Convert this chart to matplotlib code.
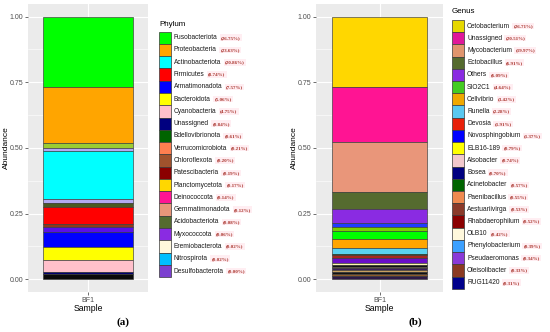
import matplotlib
matplotlib.use("Agg")
import matplotlib.pyplot as plt
import matplotlib.patches as patches

plt.rcParams['font.family'] = ['Liberation Sans', 'DejaVu Sans']

# ---- data -------------------------------------------------------------
sample = ['BF1']

# panel (a): stacked segments, top to bottom
phylum_bar_heights = [0.269, 0.213, 0.019, 0.009, 0.185, 0.016, 0.015, 0.063,
                      0.011, 0.019, 0.060, 0.049, 0.043, 0.009, 0.020]
phylum_bar_colors = ['#00FF00', '#FFA500', '#9ACD32', '#B3A9F2', '#00FFFF', '#B3A9F2',
                     '#4B5A23', '#FF0000', '#8B3A1A', '#5A10E8', '#0000FF', '#FFFF00',
                     '#FFC0CB', '#000070', '#0A0A0A']

phylum_names = ['Fusobacteriota', 'Proteobacteria', 'Actinobacteriota', 'Firmicutes',
                'Armatimonadota', 'Bacteroidota', 'Cyanobacteria', 'Unassigned',
                'Bdellovibrionota', 'Verrucomicrobiota', 'Chloroflexota', 'Patescibacteria',
                'Planctomycetota', 'Deinococcota', 'Gemmatimonadota', 'Acidobacteriota',
                'Myxococcota', 'Eremiobacterota', 'Nitrospirota', 'Desulfobacterota']
phylum_pct = ['26.75%', '23.63%', '20.86%', '8.74%', '7.57%', '5.06%', '4.75%', '0.84%',
              '0.61%', '0.21%', '0.20%', '0.19%', '0.17%', '0.14%', '0.12%', '0.08%',
              '0.06%', '0.02%', '0.02%', '0.00%']
phylum_key_colors = ['#00FF00', '#FFA500', '#00FFFF', '#FF0000', '#0000FF', '#FFFF00',
                     '#FFC0CB', '#000080', '#006400', '#FF7F50', '#A0522D', '#8B0000',
                     '#FFD700', '#FF1493', '#E9967A', '#556B2F', '#8A2BE2', '#FFF8DC',
                     '#00BFFF', '#7B3FD0']

# panel (b): stacked segments, top to bottom
genus_bar_heights = [0.269, 0.207, 0.190, 0.068, 0.053, 0.015, 0.013, 0.030, 0.035,
                     0.022, 0.006, 0.012, 0.017, 0.008, 0.007, 0.006, 0.007, 0.007,
                     0.008, 0.008, 0.012]
genus_bar_colors = ['#FFD700', '#FF1493', '#E9967A', '#556B2F', '#8A2BE2', '#1E3CFF',
                    '#7CCD00', '#00FF00', '#FFA500', '#5AD2F0', '#006400', '#A8281E',
                    '#6A0DC8', '#FFF5B0', '#111111', '#C8A060', '#3B1E5A', '#C8A060',
                    '#111111', '#8B5A2B', '#2E1A47']

genus_names = ['Cetobacterium', 'Unassigned', 'Mycobacterium', 'Ectobacillus', 'Others',
               'SIO2C1', 'Cellvibrio', 'Runella', 'Devosia', 'Novosphingobium',
               'ELB16-189', 'Alsobacter', 'Bosea', 'Acinetobacter', 'Paenibacillus',
               'Aestuariivirga', 'Rhabdaerophilum', 'OLB10', 'Phenylobacterium',
               'Pseudaeromonas', 'Oleisolibacter', 'RUG11420']
genus_pct = ['26.71%', '20.51%', '19.97%', '6.91%', '6.09%', '4.64%', '3.42%', '2.28%',
             '1.91%', '1.37%', '0.79%', '0.74%', '0.70%', '0.57%', '0.55%', '0.53%',
             '0.52%', '0.42%', '0.39%', '0.34%', '0.33%', '0.31%']
genus_key_colors = ['#E6D800', '#E0189A', '#E0956E', '#556B2F', '#8A2BE2', '#44CC22',
                    '#F0A800', '#5AC8F0', '#E8200A', '#0000FF', '#FFFF00', '#F2C8CC',
                    '#000080', '#006400', '#F08A50', '#8B3A2A', '#8B0000', '#FFF8DC',
                    '#3CA0FF', '#8A3AD8', '#8B3A22', '#00008B']

yticks = [0.0, 0.25, 0.5, 0.75, 1.0]

W, H = 550, 332
fig = plt.figure(figsize=(W / 100, H / 100), dpi=100)
fig.patch.set_facecolor('white')


def px_axes(x0, x1, y0, y1):
    return fig.add_axes([x0 / W, 1 - y1 / H, (x1 - x0) / W, (y1 - y0) / H])


def draw_panel(ax, heights, colors, ylab_x):
    ax.set_facecolor('#EBEBEB')
    top = 1.0
    for h, c in zip(heights, colors):
        ax.bar(sample, [h], bottom=[top - h], width=0.9, color=c,
               edgecolor='#3A3A3A', linewidth=0.45, zorder=3)
        top -= h
    ax.set_xlim(-0.6, 0.6)
    ax.set_ylim(-0.05, 1.05)
    ax.set_yticks(yticks)
    ax.set_yticklabels(['0.00', '0.25', '0.50', '0.75', '1.00'])
    ax.set_yticks([0.125, 0.375, 0.625, 0.875], minor=True)
    ax.grid(True, which='major', color='white', linewidth=0.8, zorder=0)
    ax.grid(True, which='minor', axis='y', color='white', linewidth=0.4, zorder=0)
    ax.tick_params(which='minor', length=0)
    ax.tick_params(which='major', length=2, width=0.5, color='#333333',
                   labelsize=5.0, labelcolor='#4D4D4D', pad=1.2)
    for s in ax.spines.values():
        s.set_visible(False)
    ax.set_ylabel('Abundance', fontsize=6)
    ax.yaxis.set_label_coords(ylab_x, 0.5)
    ax.set_xlabel('Sample', fontsize=6.2, labelpad=0)
    ax.set_axisbelow(True)


axa = px_axes(28, 148, 3.5, 292.4)
draw_panel(axa, phylum_bar_heights, phylum_bar_colors, -0.154)
axb = px_axes(316, 443, 3.5, 292.4)
draw_panel(axb, genus_bar_heights, genus_bar_colors, -0.138)

# overlay in pixel coordinates for legends and panel tags
ov = fig.add_axes([0, 0, 1, 1], facecolor='none')
ov.set_xlim(0, W)
ov.set_ylim(H, 0)
ov.axis('off')


def draw_legend(title, tx, ty, names, pcts, cols, kx, ky0, step):
    ov.text(tx, ty, title, fontsize=5.8, va='center', ha='left', color='black')
    for i, (n, p, c) in enumerate(zip(names, pcts, cols)):
        cy = ky0 + step * i
        ov.add_patch(patches.Rectangle((kx, cy - step / 2), 12, step, facecolor=c,
                                       edgecolor='#3A3A3A', linewidth=0.5))
        t = ov.text(kx + 15, cy, n, fontsize=4.8, va='center', ha='left', color='#1A1A1A')
        ov.annotate('(' + p + ')', xy=(1, 0.5), xycoords=t, xytext=(2.5, 0),
                    textcoords='offset points', va='center', ha='left',
                    fontsize=3.6, fontweight='bold', color='#A8322A',
                    family='Liberation Serif',
                    bbox=dict(boxstyle='square,pad=0.25', facecolor='#FFEEF2',
                              edgecolor='none'))


draw_legend('Phylum', 159, 24, phylum_names, phylum_pct, phylum_key_colors,
            159, 37.7, 12.28)
draw_legend('Genus', 452, 11.7, genus_names, genus_pct, genus_key_colors,
            452, 26, 12.22)

ov.text(123, 322, '(a)', fontsize=8, fontweight='bold', family='Liberation Serif',
        ha='center', va='center')
ov.text(415, 322, '(b)', fontsize=8, fontweight='bold', family='Liberation Serif',
        ha='center', va='center')

fig.savefig('out.png', dpi=100)
